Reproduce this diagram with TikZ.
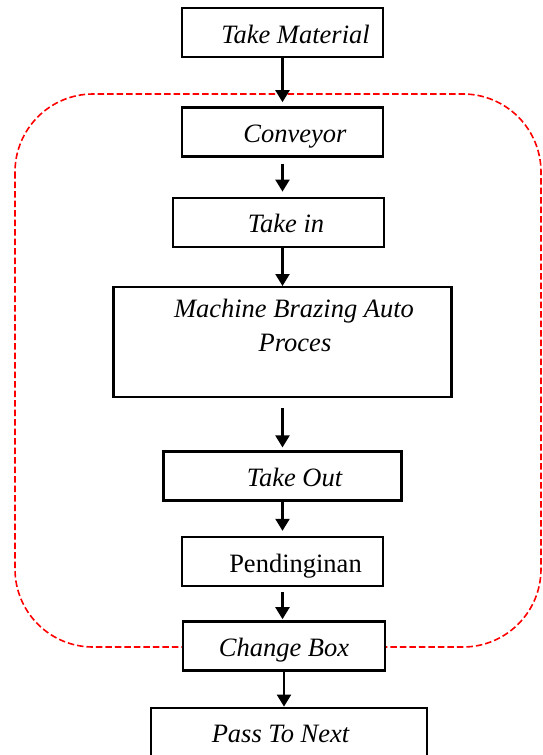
\documentclass[tikz,border=0pt]{standalone}
\usepackage{fontspec}
\setmainfont{Liberation Serif}
\usetikzlibrary{arrows.meta,positioning}

\newcommand{\boxfont}{\fontsize{26.5}{34}\selectfont}

\begin{document}
\begin{tikzpicture}[
        x=1pt, y=1pt,
        box/.style={draw, line width=2.4pt, fill=white, align=center, font=\boxfont\itshape},
        stepbox/.style={box, minimum width=201pt, minimum height=49pt, text height=21pt, text depth=0pt},
        flow/.style={-{Triangle[length=12pt,width=14pt]}, line width=2.2pt},
        loopline/.style={draw=red, line width=1.6pt, dash pattern=on 6.5pt off 3pt, rounded corners=78pt}
    ]
    \useasboundingbox (0,0) rectangle (542,-755);

    % dashed loop round the machine steps
    \draw[loopline] (15,-94) rectangle (541,-647);

    % Nodes
    \node (take)[stepbox] at (282.5,-32.5) {\hspace*{26pt}Take Material};
    \node (conv)[stepbox, below=48pt of take] {\hspace*{25pt}Conveyor};
    \node (takein)[stepbox, below=39pt of conv, minimum width=211pt, xshift=-4pt] {\hspace*{15pt}Take in};
    \node (machine)[box, below=38pt of takein, minimum width=338pt, minimum height=110pt, xshift=4pt]
        {\hspace*{23pt}Machine Brazing Auto \\ \hspace*{25pt}Proces \\ ~};
    \node (takeout)[stepbox, below=52pt of machine, minimum width=238pt] {\hspace*{24pt}Take Out};
    \node (cool)[stepbox, below=34pt of takeout, font=\boxfont] {\hspace*{26pt}Pendinginan};
    \node (change)[stepbox, below=33pt of cool, minimum width=202pt, xshift=1.5pt] {Change Box};
    \node (pass)[stepbox, below=35pt of change, minimum width=276pt, xshift=5pt] {Pass To Next\hspace*{17pt}};

    % Edges
    \draw[flow, shorten >=4pt] (take) -- (conv);
    \draw[flow, shorten <=6pt, shorten >=5pt] (conv) -- (conv |- takein.north);
    \draw[flow] (machine |- takein.south) -- (machine);
    \draw[flow, shorten <=10pt, shorten >=3pt] (machine) -- (takeout);
    \draw[flow, shorten >=5pt] (takeout) -- (cool);
    \draw[flow, shorten <=5pt, shorten >=1pt] (cool) -- (cool |- change.north);
    \draw[flow] (change) -- (change |- pass.north);

\end{tikzpicture}
\end{document}
